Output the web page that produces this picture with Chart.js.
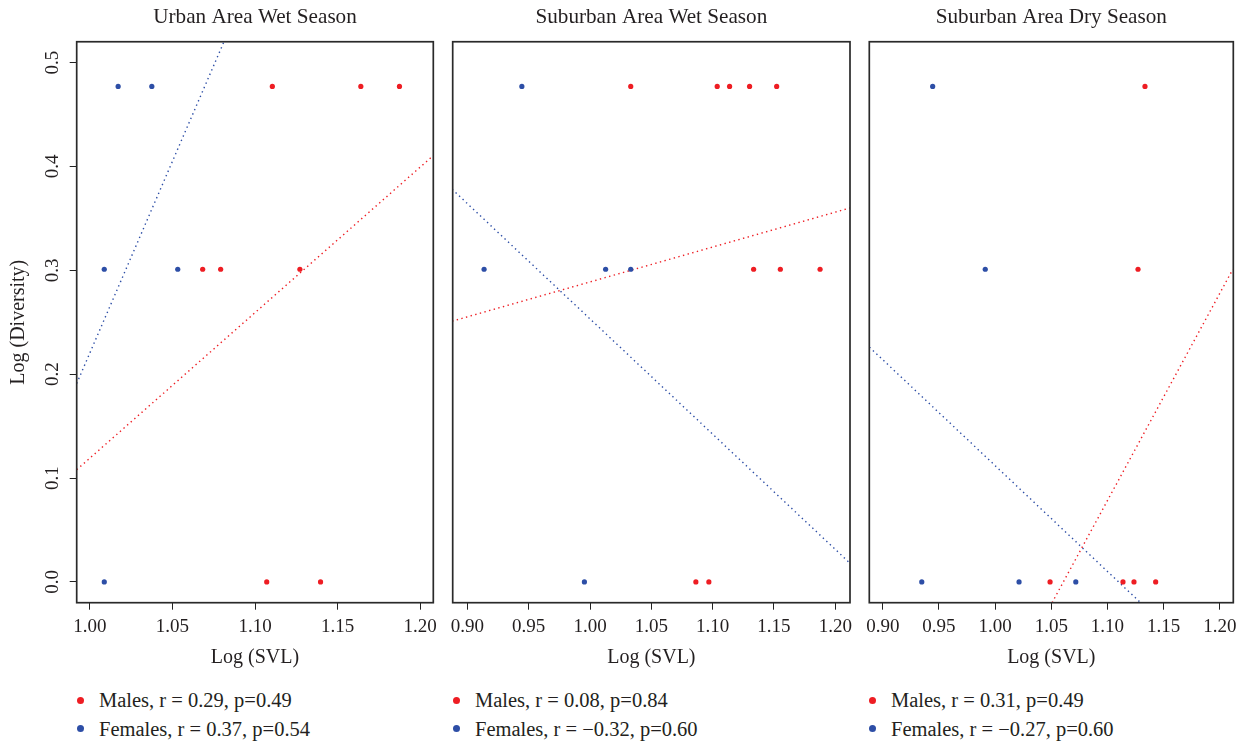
<!DOCTYPE html>
<html>
<head>
<meta charset="utf-8">
<script src="https://cdn.jsdelivr.net/npm/chart.js@4"></script>
<style>
  body { margin: 0; background: #fff; width: 1246px; height: 744px; position: relative; overflow: hidden; }
  canvas { position: absolute; top: 0; }
  .legend { position: absolute; top: 686px; font: 20.5px 'Liberation Serif', serif; color: #231f20; }
  .legend div { position: relative; height: 28.6px; line-height: 28.6px; padding-left: 22px; white-space: nowrap; }
  .legend span { position: absolute; left: 0; top: 10.8px; width: 7px; height: 7px; border-radius: 50%; }
</style>
</head>
<body>
<canvas id="p1" width="446" height="680" style="left:0px"></canvas>
<canvas id="p2" width="422" height="680" style="left:440px"></canvas>
<canvas id="p3" width="390" height="680" style="left:856px"></canvas>
<div class="legend" id="lg1" style="left:77px"></div>
<div class="legend" id="lg2" style="left:453px"></div>
<div class="legend" id="lg3" style="left:869px"></div>
<script>
// ---- data ----
const MALE_COLOR = '#ee1d23';
const FEMALE_COLOR = '#2d4ea6';

const yTicks = [0.0, 0.1, 0.2, 0.3, 0.4, 0.5];
const xTicksUrban = [1.00, 1.05, 1.10, 1.15, 1.20];
const xTicksSuburban = [0.90, 0.95, 1.00, 1.05, 1.10, 1.15, 1.20];

// Urban area, wet season
const urbanMalesX = [1.1105, 1.1641, 1.1875, 1.0683, 1.0792, 1.1272, 1.1071, 1.1397];
const urbanMalesY = [0.477, 0.477, 0.477, 0.301, 0.301, 0.301, 0.0, 0.0];
const urbanFemalesX = [1.0171, 1.0375, 1.0087, 1.0532, 1.0087];
const urbanFemalesY = [0.477, 0.477, 0.301, 0.301, 0.0];
const urbanMalesFit = [[0.992, 0.108], [1.2077, 0.410]];
const urbanFemalesFit = [[0.992, 0.191], [1.0812, 0.520]];

// Suburban area, wet season
const subWetMalesX = [1.0332, 1.1037, 1.1138, 1.1301, 1.1522, 1.1334, 1.1552, 1.1876, 1.0863, 1.0969];
const subWetMalesY = [0.477, 0.477, 0.477, 0.477, 0.477, 0.301, 0.301, 0.301, 0.0, 0.0];
const subWetFemalesX = [0.9444, 0.9136, 1.0127, 1.0332, 0.9954];
const subWetFemalesY = [0.477, 0.301, 0.301, 0.301, 0.0];
const subWetMalesFit = [[0.8875, 0.251], [1.212, 0.360]];
const subWetFemalesFit = [[0.8875, 0.378], [1.212, 0.018]];

// Suburban area, dry season
const subDryMalesX = [1.1334, 1.1272, 1.0489, 1.1138, 1.1236, 1.1429];
const subDryMalesY = [0.477, 0.301, 0.0, 0.0, 0.0, 0.0];
const subDryFemalesX = [0.9444, 0.9912, 0.9347, 1.0213, 1.0718];
const subDryFemalesY = [0.477, 0.301, 0.0, 0.0, 0.0];
const subDryMalesFit = [[1.0507, -0.02], [1.2116, 0.301]];
const subDryFemalesFit = [[0.8881, 0.226], [1.1295, -0.02]];

const legendUrban = ['Males, r = 0.29, p=0.49', 'Females, r = 0.37, p=0.54'];
const legendSubWet = ['Males, r = 0.08, p=0.84', 'Females, r = \u22120.32, p=0.60'];
const legendSubDry = ['Males, r = 0.31, p=0.49', 'Females, r = \u22120.27, p=0.60'];

// ---- helpers ----
const FONT = "'Liberation Serif', serif";
const INK = '#231f20';

const toPoints = (xs, ys) => xs.map((x, i) => ({ x: x, y: ys[i] }));
const toLine = pts => pts.map(p => ({ x: p[0], y: p[1] }));

// R style box around the plot region
const boxPlugin = {
  id: 'box',
  afterDraw(chart) {
    const a = chart.chartArea, ctx = chart.ctx;
    ctx.save();
    ctx.strokeStyle = '#2a2a2a';
    ctx.lineWidth = 1.7;
    ctx.strokeRect(a.left, a.top, a.right - a.left, a.bottom - a.top);
    ctx.restore();
  }
};

function makePanel(id, title, p) {
  const fitStyle = color => ({
    showLine: true, pointRadius: 0, borderColor: color, borderWidth: 1.4,
    borderDash: [1.4, 3.4], fill: false
  });
  new Chart(document.getElementById(id), {
    type: 'scatter',
    data: {
      datasets: [
        { data: toPoints(p.mx, p.my), backgroundColor: MALE_COLOR, borderWidth: 0, pointRadius: 2.6 },
        { data: toPoints(p.fx, p.fy), backgroundColor: FEMALE_COLOR, borderWidth: 0, pointRadius: 2.6 },
        Object.assign({ data: toLine(p.mFit) }, fitStyle(MALE_COLOR)),
        Object.assign({ data: toLine(p.fFit) }, fitStyle(FEMALE_COLOR))
      ]
    },
    options: {
      responsive: false,
      animation: false,
      events: [],
      layout: { padding: p.pad },
      plugins: {
        legend: { display: false },
        tooltip: { enabled: false },
        title: {
          display: true, text: title, color: INK, fullSize: false,
          font: { family: FONT, size: 21.2, weight: 'normal', lineHeight: 1.2 },
          padding: { top: 5.2, bottom: 11.1 }
        }
      },
      scales: {
        x: {
          type: 'linear', min: p.xMin, max: p.xMax,
          afterBuildTicks: s => { s.ticks = p.xTicks.map(v => ({ value: v })); },
          afterFit: s => { s.height = 77.3; },
          grid: { drawOnChartArea: false, drawTicks: true, tickLength: 7, color: '#222' },
          border: { display: false },
          ticks: { color: INK, padding: 6, maxRotation: 0, autoSkip: false,
                   font: { family: FONT, size: 19 }, callback: v => v.toFixed(2) },
          title: { display: true, text: 'Log (SVL)', color: INK,
                   font: { family: FONT, size: 20 }, padding: { top: 0, bottom: 10.5 } }
        },
        y: {
          type: 'linear', min: -0.02, max: 0.52, display: p.showY,
          afterBuildTicks: s => { s.ticks = yTicks.map(v => ({ value: v })); },
          afterFit: s => { if (p.showY) s.width = 76.7; },
          grid: { drawOnChartArea: false, drawTicks: true, tickLength: 7, color: '#222' },
          border: { display: false },
          ticks: { color: INK, padding: 5, minRotation: 90, maxRotation: 90, crossAlign: 'center',
                   autoSkip: false, font: { family: FONT, size: 19 }, callback: v => v.toFixed(1) },
          title: { display: true, text: 'Log (Diversity)', color: INK,
                   font: { family: FONT, size: 20 }, padding: { top: 7, bottom: 0 } }
        }
      }
    },
    plugins: [boxPlugin]
  });
}

function makeLegend(id, labels) {
  const el = document.getElementById(id);
  [MALE_COLOR, FEMALE_COLOR].forEach((c, i) => {
    const row = document.createElement('div');
    const dot = document.createElement('span');
    dot.style.background = c;
    row.appendChild(dot);
    row.appendChild(document.createTextNode(labels[i]));
    el.appendChild(row);
  });
}

makePanel('p1', 'Urban Area Wet Season', {
  mx: urbanMalesX, my: urbanMalesY, fx: urbanFemalesX, fy: urbanFemalesY,
  mFit: urbanMalesFit, fFit: urbanFemalesFit,
  xTicks: xTicksUrban, xMin: 0.992, xMax: 1.208, showY: true,
  pad: { left: 0, right: 12.7, top: 0, bottom: 0 }
});
makePanel('p2', 'Suburban Area Wet Season', {
  mx: subWetMalesX, my: subWetMalesY, fx: subWetFemalesX, fy: subWetFemalesY,
  mFit: subWetMalesFit, fFit: subWetFemalesFit,
  xTicks: xTicksSuburban, xMin: 0.888, xMax: 1.212, showY: false,
  pad: { left: 12.7, right: 12, top: 0, bottom: 0 }
});
makePanel('p3', 'Suburban Area Dry Season', {
  mx: subDryMalesX, my: subDryMalesY, fx: subDryFemalesX, fy: subDryFemalesY,
  mFit: subDryMalesFit, fFit: subDryFemalesFit,
  xTicks: xTicksSuburban, xMin: 0.888, xMax: 1.212, showY: false,
  pad: { left: 13.3, right: 12.7, top: 0, bottom: 0 }
});

makeLegend('lg1', legendUrban);
makeLegend('lg2', legendSubWet);
makeLegend('lg3', legendSubDry);
</script>
</body>
</html>
